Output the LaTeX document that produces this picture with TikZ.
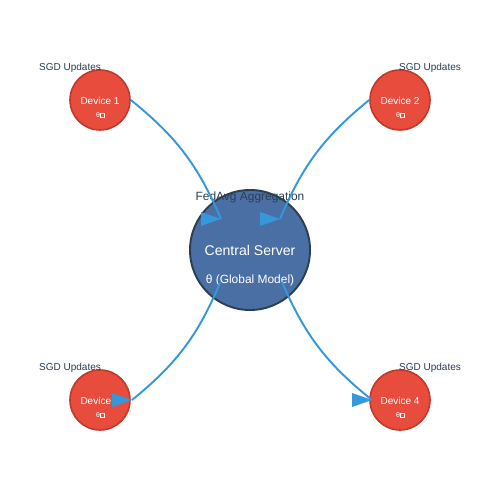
\documentclass[tikz,border=0pt]{standalone}
\usepackage{fontspec}
\setmainfont{Liberation Sans}
\usepackage{xcolor}
\usepackage{tikz}
\usetikzlibrary{positioning}

\definecolor{DevRed}{HTML}{E74C3C}
\definecolor{DevEdge}{HTML}{C0392B}
\definecolor{SrvBlue}{HTML}{4A6FA5}
\definecolor{SrvEdge}{HTML}{2C3E50}
\definecolor{FlowBlue}{HTML}{3498DB}
\definecolor{Ink}{HTML}{2C3E50}

\newcommand{\tofu}{{\setlength{\fboxsep}{0pt}\setlength{\fboxrule}{0.15pt}\fbox{\phantom{\fontsize{3.2}{3.5}\selectfont 0}}}}

\begin{document}
\begin{tikzpicture}
[device/.style={circle, fill=DevRed, draw=DevEdge, line width=0.9pt,
minimum size=1.2cm, inner sep=0pt, text=white, font=\fontsize{5.7}{6}\selectfont},
server/.style={circle, fill=SrvBlue, draw=SrvEdge, line width=1.1pt,
minimum size=2.4cm, inner sep=0pt},
param/.style={text=white, font=\fontsize{4}{4.5}\selectfont},
note/.style={text=Ink, font=\fontsize{5.7}{6}\selectfont},
flow/.style={draw=FlowBlue, line width=1.1pt},
head/.style={fill=FlowBlue}]
\fill[white] (0,0) rectangle (10,10);
\useasboundingbox (0,0) rectangle (10,10);

% central server
\node[server] (srv) at (5,5) {};
\node[text=white, font=\fontsize{8}{9}\selectfont] (srvname) at (5,5) {Central Server};
\node[text=white, font=\fontsize{6.8}{8}\selectfont] (srvtheta) at (5,4.39) {θ (Global Model)};
\node[note, font=\fontsize{6.8}{8}\selectfont] (fedavg) at (5,6.05) {FedAvg Aggregation};

% devices
\node[device] (d1) at (2,8) {};
\node[device] (d2) at (8,8) {};
\node[device] (d3) at (2,2) {};
\node[device] (d4) at (8,2) {};
\node[device, draw=none, fill=none] (n1) at (2,7.98) {Device 1};
\node[device, draw=none, fill=none] (n2) at (8,7.98) {Device 2};
\node[device, draw=none, fill=none] (n3) at (2,1.98) {Device 3};
\node[device, draw=none, fill=none] (n4) at (8,1.98) {Device 4};
\node[param] (t1) at (2,7.7) {θ\tofu};
\node[param] (t2) at (8,7.7) {θ\tofu};
\node[param] (t3) at (2,1.7) {θ\tofu};
\node[param] (t4) at (8,1.7) {θ\tofu};
\node[note] (s1) at (1.4,8.65) {SGD Updates};
\node[note] (s2) at (8.6,8.65) {SGD Updates};
\node[note] (s3) at (1.4,2.65) {SGD Updates};
\node[note] (s4) at (8.6,2.65) {SGD Updates};

% flows
\coordinate (agg1) at (4.42,5.62);
\coordinate (agg2) at (5.6,5.62);
\coordinate (send3) at (4.4,4.34);
\coordinate (send4) at (5.64,4.36);
\coordinate (back3) at (2.64,2);
\coordinate (back4) at (7.44,2);
\draw[flow] (d1.east) to[bend left=14] (agg1);
\draw[flow] (d2.west) to[bend right=14] (agg2);
\draw[flow] (send3) to[bend left=14] (back3);
\draw[flow] (send4) to[bend right=14] (back4);
\fill[head] (agg1) -- +(-0.4,0.14) -- +(-0.4,-0.14) -- cycle;
\fill[head] (agg2) -- +(-0.4,0.14) -- +(-0.4,-0.14) -- cycle;
\fill[head] (back3) -- +(-0.4,0.14) -- +(-0.4,-0.14) -- cycle;
\fill[head] (back4) -- +(-0.4,0.14) -- +(-0.4,-0.14) -- cycle;
\end{tikzpicture}
\end{document}
